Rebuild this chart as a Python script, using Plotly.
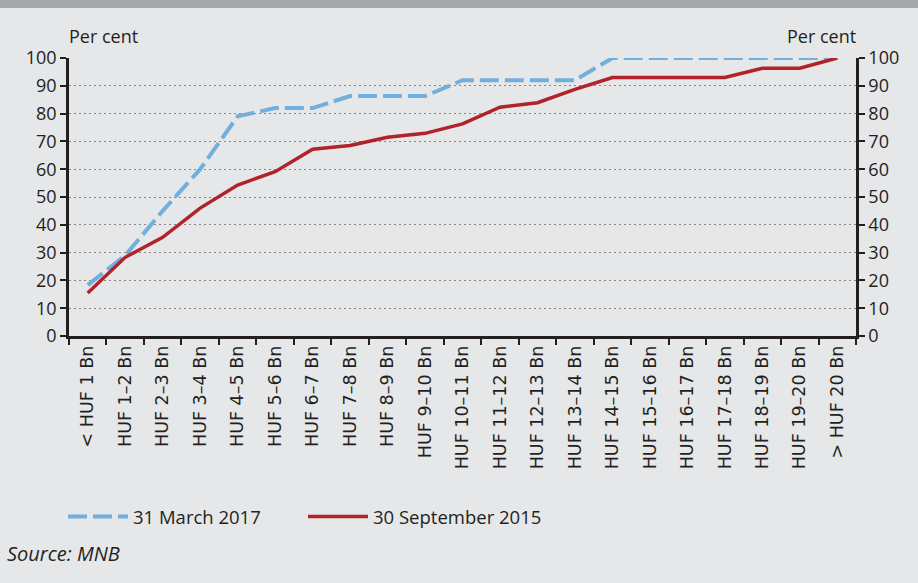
import plotly.graph_objects as go

categories = ["< HUF 1 Bn", "HUF 1–2 Bn", "HUF 2–3 Bn", "HUF 3–4 Bn", "HUF 4–5 Bn",
              "HUF 5–6 Bn", "HUF 6–7 Bn", "HUF 7–8 Bn", "HUF 8–9 Bn", "HUF 9–10 Bn",
              "HUF 10–11 Bn", "HUF 11–12 Bn", "HUF 12–13 Bn", "HUF 13–14 Bn", "HUF 14–15 Bn",
              "HUF 15–16 Bn", "HUF 16–17 Bn", "HUF 17–18 Bn", "HUF 18–19 Bn", "HUF 19–20 Bn",
              "> HUF 20 Bn"]
march_2017 = [18.3, 29, 45, 60, 79, 82, 82, 86.3, 86.3, 86.3, 92, 92, 92, 92, 100,
              100, 100, 100, 100, 100, 100]
sept_2015 = [15.5, 28.3, 35.5, 46, 54.3, 59.1, 67.2, 68.5, 71.5, 72.9, 76.3, 82.3, 83.9,
             88.7, 93, 93, 93, 93, 96.3, 96.3, 100]
y_ticks = [0, 10, 20, 30, 40, 50, 60, 70, 80, 90, 100]

FONT = "Open Sans, Lato, sans-serif"
XFONT = "DejaVu Sans, Open Sans, sans-serif"
INK = "#231F20"
fig = go.Figure()
fig.add_trace(go.Scatter(x=categories, y=march_2017, mode="lines", name="31 March 2017",
                         line=dict(color="#73AFDD", width=4, dash="19px,6px")))
fig.add_trace(go.Scatter(x=categories, y=sept_2015, mode="lines", name="30 September 2015",
                         line=dict(color="#B2222A", width=3.5)))
fig.add_trace(go.Scatter(x=categories, y=sept_2015, yaxis="y2", mode="lines",
                         line=dict(color="rgba(0,0,0,0)"), showlegend=False, hoverinfo="skip"))

H = 278.0
W = 787.0
def py(p):
    return 1 + (58 - p) / H
def px(p):
    return (p - 69) / W

axis_common = dict(ticks="outside", ticklen=6, tickwidth=2, tickcolor=INK,
                   showline=True, linecolor=INK, linewidth=2.5, zeroline=False)

fig.update_layout(
    width=918, height=583,
    margin=dict(l=69, r=62, t=58, b=247),
    paper_bgcolor="#E6E7E9", plot_bgcolor="#E6E7E9",
    font=dict(family=FONT, color=INK),
    showlegend=True,
    legend=dict(orientation="h", x=px(63), y=py(498), xanchor="left", yanchor="top",
                font=dict(size=18.5, family=FONT), entrywidth=165, bgcolor="rgba(0,0,0,0)",
                itemwidth=60, tracegroupgap=0),
    xaxis=dict(type="category", range=[-0.5, 20.5], tickangle=-90, tickson="boundaries",
               showgrid=False, tickfont=dict(size=17.5, family=XFONT), **axis_common),
    yaxis=dict(range=[0, 100], tickvals=y_ticks,
               showgrid=True, gridcolor="#858585", griddash="1.5px,3.5px", gridwidth=1.2,
               tickfont=dict(size=18, family=FONT), **axis_common),
    yaxis2=dict(range=[0, 100], tickvals=y_ticks, overlaying="y", side="right",
                showgrid=False, tickfont=dict(size=18, family=FONT), **axis_common),
    shapes=[dict(type="rect", xref="paper", yref="paper", x0=-0.2, x1=1.2,
                 y0=py(8), y1=py(0) + 0.01, fillcolor="#A7A8AB", line=dict(width=0),
                 layer="above")],
    annotations=[
        dict(text="Per cent", xref="paper", yref="paper", x=px(67), y=py(50), xanchor="left",
             yanchor="bottom", showarrow=False, font=dict(size=18, family=FONT)),
        dict(text="Per cent", xref="paper", yref="paper", x=px(858), y=py(50), xanchor="right",
             yanchor="bottom", showarrow=False, font=dict(size=18, family=FONT)),
        dict(text="<i>Source: MNB</i>", xref="paper", yref="paper", x=px(5), y=py(553),
             xanchor="left", yanchor="middle", showarrow=False,
             font=dict(size=20, family=FONT)),
    ],
)
fig.write_html("out.html", config={"displayModeBar": False},
               post_script="document.body.style.margin='0';document.body.style.overflow='hidden';")
